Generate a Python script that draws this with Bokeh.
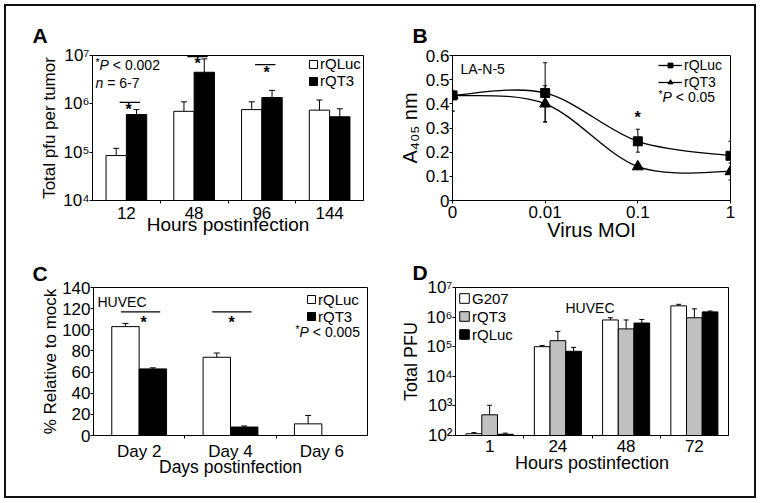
import math
from bokeh.plotting import figure
from bokeh.models import (ColumnDataSource, Whisker, TeeHead, Label, Legend, LegendItem,
                          FixedTicker, Range1d)
from bokeh.layouts import row, column
from bokeh.embed import file_html
from bokeh.resources import INLINE

FONT = "Liberation Sans"
NB = "\u00a0"

# ---------------- data ----------------
# Panel A: total pfu per tumor (log scale)
a_hours = ["12", "48", "96", "144"]
a_rqluc = [8.5e4, 7.0e5, 7.6e5, 7.4e5]
a_rqluc_err = [3.5e4, 4.0e5, 3.4e5, 4.6e5]
a_rqt3 = [6.0e5, 4.5e6, 1.35e6, 5.4e5]
a_rqt3_err = [1.6e5, 4.0e6, 5.5e5, 2.5e5]
a_yticks = [10**4, 10**5, 10**6, 10**7]

# Panel B: A405 vs virus MOI
b_moi = ["0", "0.01", "0.1", "1"]
b_rqluc = [0.435, 0.445, 0.245, 0.185]
b_rqluc_err_up = [0.0, 0.125, 0.05, 0.06]
b_rqluc_err_dn = [0.065, 0.12, 0.045, 0.06]
b_rqt3 = [0.435, 0.40, 0.14, 0.12]
b_rqt3_err_up = [0.0, 0.075, 0.008, 0.035]
b_rqt3_err_dn = [0.065, 0.075, 0.008, 0.035]
b_yticks = [0, 0.1, 0.2, 0.3, 0.4, 0.5, 0.6]

# Panel C: % relative to mock
c_days = ["Day 2", "Day 4", "Day 6"]
c_rqluc = [103, 74, 11]
c_rqluc_err = [3, 4, 8]
c_rqt3 = [63, 8, 0]
c_rqt3_err = [1, 1, 0]
c_yticks = [0, 20, 40, 60, 80, 100, 120, 140]

# Panel D: total PFU (log scale)
d_hours = ["1", "24", "48", "72"]
d_g207 = [1.15e2, 1.0e5, 8.0e5, 2.4e6]
d_g207_err = [0.1e2, 0.1e5, 1.5e5, 0.3e6]
d_rqt3 = [5.0e2, 1.6e5, 4.0e5, 9.5e5]
d_rqt3_err = [5.5e2, 1.7e5, 4.0e5, 9.5e5]
d_rqluc = [1.1e2, 7.0e4, 6.3e5, 1.5e6]
d_rqluc_err = [0.1e2, 2.5e4, 2.0e5, 0.1e6]
d_yticks = [10**2, 10**3, 10**4, 10**5, 10**6, 10**7]

SUP = str.maketrans("0123456789", "⁰¹²³⁴⁵⁶⁷⁸⁹")


def pow_label(v):
    return "10" + str(int(round(math.log10(v)))).translate(SUP)


# ---------------- helpers ----------------
def make_fig(origin, size, frame, x_range, y_range, y_type="linear", letter="", letter_x=0,
             letter_standoff=8):
    ox, oy = origin
    w, h = size
    l, t, r, b = frame
    p = figure(width=w, height=h, x_range=x_range, y_range=y_range, y_axis_type=y_type,
               output_backend="svg", toolbar_location=None,
               min_border_left=l - ox, min_border_right=ox + w - r,
               min_border_top=t - oy, min_border_bottom=oy + h - b)
    p.title.text = letter
    p.title.align = "left"
    p.title.offset = letter_x - l
    p.title.text_font = FONT
    p.title.text_font_size = "21px"
    p.title.text_font_style = "bold"
    p.title.text_color = "black"
    p.title.standoff = letter_standoff
    p.xgrid.visible = False
    p.ygrid.visible = False
    p.outline_line_color = "black"
    p.outline_line_alpha = 1.0
    p.outline_line_width = 1
    p.background_fill_color = "white"
    p.border_fill_color = None
    for ax in (p.xaxis[0], p.yaxis[0]):
        ax.axis_line_color = "black"
        ax.axis_line_width = 1
        ax.major_tick_line_color = "black"
        ax.major_label_text_font = FONT
        ax.major_label_text_color = "black"
        ax.major_label_text_font_size = "17px"
        ax.axis_label_text_font = FONT
        ax.axis_label_text_font_style = "normal"
        ax.axis_label_text_color = "black"
        ax.axis_label_text_font_size = "18px"
    xa = p.xaxis[0]
    xa.major_tick_in = 0
    xa.major_tick_out = 0
    xa.minor_tick_in = 0
    xa.minor_tick_out = 3
    xa.minor_tick_line_color = "black"
    xa.major_label_standoff = 3
    xa.axis_label_standoff = -4
    ya = p.yaxis[0]
    ya.major_tick_in = 0
    ya.major_tick_out = 3
    ya.minor_tick_line_color = None
    ya.major_label_standoff = 0
    ya.axis_label_standoff = 2
    return p


def place(p, frame, X, Y, text, size, style="normal", align="left", baseline="middle"):
    """Place a text annotation at picture position (X, Y) inside the plot frame."""
    l, t, r, b = frame
    p.add_layout(Label(x=X - l, y=b - Y, x_units="screen", y_units="screen", text=text,
                       text_font=FONT, text_font_size=f"{size}px", text_font_style=style,
                       text_color="black", text_align=align, text_baseline=baseline))


def p_value(p, frame, X, Y, rest, size=14):
    place(p, frame, X, Y - 3, "*", size * 0.75)
    wx = 0.389 * size * 0.75
    place(p, frame, X + wx, Y, "P", size, style="italic")
    place(p, frame, X + wx + 0.667 * size, Y, rest, size)


def cat_axis(p, cats, centers):
    p.xaxis.ticker = FixedTicker(ticks=centers, minor_ticks=[i for i in range(1, len(cats))])
    p.xaxis.major_label_overrides = {c: lab for c, lab in zip(centers, cats)}


def whisk(p, x, lower, upper, head=6, both=False):
    src = ColumnDataSource(dict(x=x, lower=lower, upper=upper))
    w = Whisker(base="x", lower="lower", upper="upper", source=src, level="overlay",
                line_color="black", line_width=1,
                upper_head=TeeHead(size=head, line_color="black", line_width=1),
                lower_head=TeeHead(size=head, line_color="black", line_width=1) if both else None)
    p.add_layout(w)


def legend(p, items, vx, vy, size, item_h, gw, gh):
    lg = Legend(items=items, location=(vx, vy), orientation="vertical",
                glyph_width=gw, glyph_height=gh, label_height=item_h, label_width=10,
                label_standoff=2, spacing=0, padding=0, margin=0, border_line_color=None,
                background_fill_alpha=0, label_text_font=FONT, label_text_font_size=f"{size}px",
                label_text_color="black", label_text_baseline="middle")
    p.add_layout(lg)


# ---------------- panel A ----------------
FA = (92, 55, 363, 201)
nA = len(a_hours)
pA = make_fig((0, 0), (380, 250), FA, Range1d(0, nA), Range1d(a_yticks[0], a_yticks[-1]), "log",
              letter="A", letter_x=32, letter_standoff=18)
xa_c = [i + 0.5 for i in range(nA)]
cat_axis(pA, a_hours, xa_c)
pA.yaxis.ticker = FixedTicker(ticks=a_yticks)
pA.yaxis.major_label_overrides = {v: pow_label(v) for v in a_yticks}
pA.xaxis.axis_label = "Hours postinfection"
pA.xaxis.axis_label_text_font_size = "19px"
pA.xaxis.axis_label_standoff = -8
pA.yaxis.axis_label = "Total pfu per tumor"
pA.yaxis.axis_label_text_font_size = "17px"
pA.yaxis.axis_label_standoff = 1
bw = 0.3
ra1 = pA.vbar(x=[c - bw / 2 for c in xa_c], top=a_rqluc, bottom=a_yticks[0], width=bw,
              fill_color="white", line_color="black", line_width=1)
ra2 = pA.vbar(x=[c + bw / 2 for c in xa_c], top=a_rqt3, bottom=a_yticks[0], width=bw,
              fill_color="black", line_color="black", line_width=1)
whisk(pA, [c - bw / 2 for c in xa_c], a_rqluc, [v + e for v, e in zip(a_rqluc, a_rqluc_err)])
whisk(pA, [c + bw / 2 for c in xa_c], a_rqt3, [v + e for v, e in zip(a_rqt3, a_rqt3_err)])
# significance markers (12, 48, 96 h)
sig_y = [1.07e6, 9.5e6, 6.5e6]
pA.segment(x0=[xa_c[i] - 0.1 for i in range(3)], x1=[xa_c[i] + 0.2 for i in range(3)],
           y0=sig_y, y1=sig_y, line_color="black", line_width=1.2)
for X, Y in [(128, 110), (197, 64), (266, 73)]:
    place(pA, FA, X, Y, "*", 16, style="bold", align="center")
legend(pA, [LegendItem(label="rQLuc", renderers=[ra1]), LegendItem(label="rQT3", renderers=[ra2])],
       216, 111, 15, 17, 10, 10)
p_value(pA, FA, 95, 65, NB + "<" + NB + "0.002", 14)
place(pA, FA, 95, 83, "n", 14, style="italic")
place(pA, FA, 95 + 0.556 * 14, 83, NB + "=" + NB + "6-7", 14)

# ---------------- panel B ----------------
FB = (452, 54, 730, 200)
nB = len(b_moi)
pB = make_fig((380, 0), (380, 250), FB, Range1d(0, nB - 1), Range1d(0, 0.6),
              letter="B", letter_x=412, letter_standoff=18)
xb = list(range(nB))
pB.xaxis.ticker = FixedTicker(ticks=xb)
pB.xaxis.major_label_overrides = {i: lab for i, lab in zip(xb, b_moi)}
pB.xaxis.major_tick_out = 3
pB.xaxis.major_label_standoff = 2
pB.yaxis.ticker = FixedTicker(ticks=b_yticks)
pB.yaxis.major_label_overrides = {v: ("0" if v == 0 else f"{v:.1f}") for v in b_yticks}
pB.xaxis.axis_label = "Virus MOI"
pB.xaxis.axis_label_text_font_size = "20px"
pB.xaxis.axis_label_standoff = -2
pB.yaxis.axis_label = "A₄₀₅ nm"
pB.yaxis.axis_label_text_font_size = "20px"


def smooth(xs, ys, t=1.0 / 6.0):
    n = len(xs)
    out = dict(x0=[], y0=[], x1=[], y1=[], cx0=[], cy0=[], cx1=[], cy1=[])
    for i in range(n - 1):
        xm, ym = (xs[i - 1], ys[i - 1]) if i > 0 else (xs[i], ys[i])
        x2, y2 = (xs[i + 2], ys[i + 2]) if i + 2 < n else (xs[i + 1], ys[i + 1])
        out["x0"].append(xs[i]); out["y0"].append(ys[i])
        out["x1"].append(xs[i + 1]); out["y1"].append(ys[i + 1])
        out["cx0"].append(xs[i] + (xs[i + 1] - xm) * t)
        out["cy0"].append(ys[i] + (ys[i + 1] - ym) * t)
        out["cx1"].append(xs[i + 1] - (x2 - xs[i]) * t)
        out["cy1"].append(ys[i + 1] - (y2 - ys[i]) * t)
    return out


curves = []
for ys in (b_rqluc, b_rqt3):
    curves.append(pB.bezier(source=ColumnDataSource(smooth(xb, ys)), x0="x0", y0="y0", x1="x1",
                            y1="y1", cx0="cx0", cy0="cy0", cx1="cx1", cy1="cy1",
                            line_color="black", line_width=1.3))
whisk(pB, xb, [v - e for v, e in zip(b_rqluc, b_rqluc_err_dn)],
      [v + e for v, e in zip(b_rqluc, b_rqluc_err_up)], head=4, both=True)
whisk(pB, xb, [v - e for v, e in zip(b_rqt3, b_rqt3_err_dn)],
      [v + e for v, e in zip(b_rqt3, b_rqt3_err_up)], head=4, both=True)
rb1 = pB.scatter(xb, b_rqluc, marker="square", size=9, fill_color="black", line_color="black")
rb2 = pB.scatter(xb, b_rqt3, marker="triangle", size=11, fill_color="black", line_color="black")
legend(pB, [LegendItem(label="rQLuc", renderers=[curves[0], rb1]),
            LegendItem(label="rQT3", renderers=[curves[1], rb2])],
       658 - 452, 200 - 90, 14, 17, 24, 12)
p_value(pB, FB, 658, 96, NB + "<" + NB + "0.05", 14)
place(pB, FB, 460, 68, "LA-N-5", 14)
place(pB, FB, 637, 117, "*", 16, style="bold", align="center")

# ---------------- panel C ----------------
FC = (93, 287, 367, 436)
nC = len(c_days)
pC = make_fig((0, 250), (380, 252), FC, Range1d(0, nC), Range1d(0, 140),
              letter="C", letter_x=32, letter_standoff=6)
xc_c = [i + 0.5 for i in range(nC)]
cat_axis(pC, c_days, xc_c)
pC.yaxis.ticker = FixedTicker(ticks=c_yticks)
pC.xaxis.axis_label = "Days postinfection"
pC.xaxis.axis_label_text_font_size = "17.5px"
pC.xaxis.axis_label_standoff = -7
pC.yaxis.axis_label = "% Relative to mock"
pC.yaxis.axis_label_text_font_size = "17px"
pC.yaxis.axis_label_standoff = -1
cw = 0.3
rc1 = pC.vbar(x=[c - cw / 2 for c in xc_c], top=c_rqluc, bottom=0, width=cw,
              fill_color="white", line_color="black", line_width=1)
rc2 = pC.vbar(x=[c + cw / 2 for c in xc_c], top=c_rqt3, bottom=0, width=cw,
              fill_color="black", line_color="black", line_width=1)
whisk(pC, [c - cw / 2 for c in xc_c], c_rqluc, [v + e for v, e in zip(c_rqluc, c_rqluc_err)])
whisk(pC, [c + cw / 2 for c in xc_c][:2], c_rqt3[:2],
      [v + e for v, e in zip(c_rqt3, c_rqt3_err)][:2])
pC.segment(x0=[xc_c[i] - 0.2 for i in range(2)], x1=[xc_c[i] + 0.23 for i in range(2)],
           y0=[117, 117], y1=[117, 117], line_color="black", line_width=1.2)
for X in (143, 231):
    place(pC, FC, X, 323, "*", 16, style="bold", align="center")
legend(pC, [LegendItem(label="rQLuc", renderers=[rc1]), LegendItem(label="rQT3", renderers=[rc2])],
       306 - 93, 436 - (287 + 16 - 7.5 + 30), 15, 15, 10, 10)
p_value(pC, FC, 295, 332, NB + "<" + NB + "0.005", 14)
place(pC, FC, 97, 302, "HUVEC", 14)

# ---------------- panel D ----------------
FD = (455, 287, 728, 435)
nD = len(d_hours)
pD = make_fig((380, 250), (380, 252), FD, Range1d(0, nD), Range1d(d_yticks[0], d_yticks[-1]),
              "log", letter="D", letter_x=412, letter_standoff=8)
xd_c = [i + 0.5 for i in range(nD)]
cat_axis(pD, d_hours, xd_c)
pD.xaxis.major_label_standoff = 1
pD.xaxis.axis_label_standoff = -2
pD.yaxis.ticker = FixedTicker(ticks=d_yticks)
pD.yaxis.major_label_overrides = {v: pow_label(v) for v in d_yticks}
pD.xaxis.axis_label = "Hours postinfection"
pD.yaxis.axis_label = "Total PFU"
dw = 0.23
series_d = [(d_g207, d_g207_err, "white", -dw), (d_rqt3, d_rqt3_err, "#c0c0c0", 0.0),
            (d_rqluc, d_rqluc_err, "black", dw)]
rds = []
for vals, errs, col, off in series_d:
    xs = [c + off for c in xd_c]
    rds.append(pD.vbar(x=xs, top=vals, bottom=d_yticks[0], width=dw, fill_color=col,
                       line_color="black", line_width=1))
    whisk(pD, xs, vals, [v + e for v, e in zip(vals, errs)], head=5)
legend(pD, [LegendItem(label=lab, renderers=[r]) for lab, r in zip(["G207", "rQT3", "rQLuc"], rds)],
       3, 435 - (287 + 2 + 54), 15, 18, 12, 12)
place(pD, FD, 565, 307, "HUVEC", 14)

layout = column(row(pA, pB, spacing=0), row(pC, pD, spacing=0), spacing=0,
                styles={"outline": "2px solid #111111", "outline-offset": "-6px"})
open("out.html", "w").write(file_html(layout, INLINE))
